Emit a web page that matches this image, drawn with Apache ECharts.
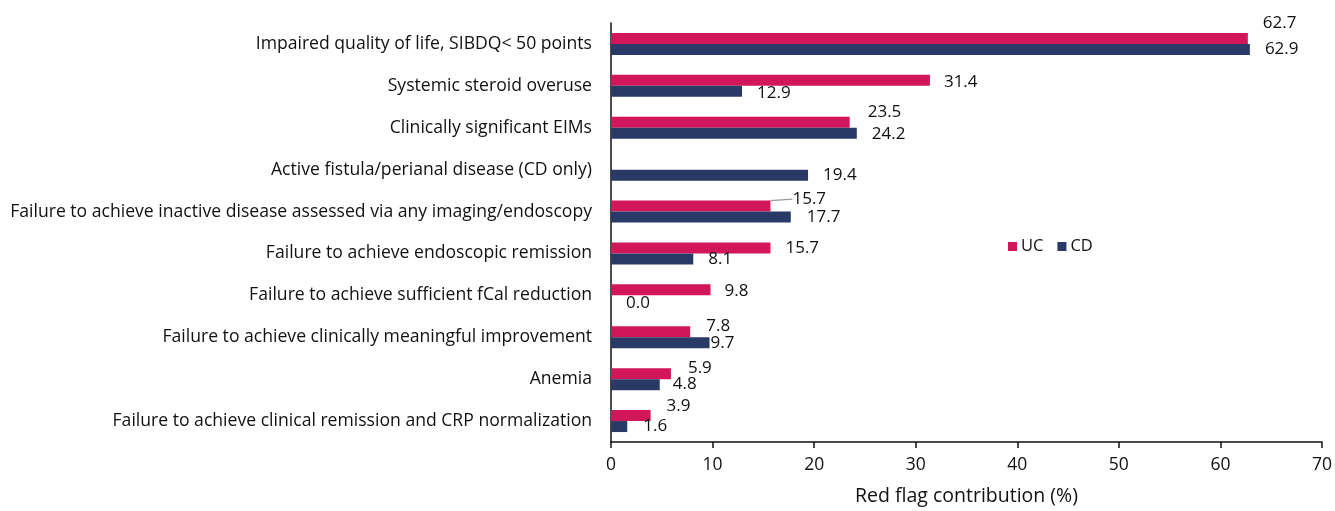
<!DOCTYPE html>
<html>
<head>
<meta charset="utf-8">
<script src="https://cdn.jsdelivr.net/npm/echarts@6/dist/echarts.min.js"></script>
<style>
html,body{margin:0;padding:0;background:#fff;}
#chart{width:1335px;height:511px;}
</style>
</head>
<body>
<div id="chart"></div>
<script>
// ---- data ----
const categories = [
  'Impaired quality of life, SIBDQ< 50 points',
  'Systemic steroid overuse',
  'Clinically significant EIMs',
  'Active fistula/perianal disease (CD only)',
  'Failure to achieve inactive disease assessed via any imaging/endoscopy',
  'Failure to achieve endoscopic remission',
  'Failure to achieve sufficient fCal reduction',
  'Failure to achieve clinically meaningful improvement',
  'Anemia',
  'Failure to achieve clinical remission and CRP normalization'
];
const ucValues = [62.7, 31.4, 23.5, null, 15.7, 15.7, 9.8, 7.8, 5.9, 3.9];
const cdValues = [62.9, 12.9, 24.2, 19.4, 17.7, 8.1, 0.0, 9.7, 4.8, 1.6];
const seriesNames = ['UC', 'CD'];
const xTicks = [0, 10, 20, 30, 40, 50, 60, 70];
const xAxisTitle = 'Red flag contribution (%)';

// ---- label placement tweaks (style, not data) ----
const ucLabelShift = [[1,-15],[0,2],[4,-10],[0,0],[8,-7],[1,0],[0,1],[2,-6],[3,-5],[2,-9]];
const cdLabelShift = [[1,0],[1,2],[1,1],[1,0],[2,0],[1,0],[1,2.5],[-13,0],[-1,0],[2,0]];

const colors = ['#D1175A', '#2A3A66'];
const FONT = '"Open Sans", Lato, sans-serif';

function makeSeries(name, values, color, shifts, leaderIdx) {
  return {
    name: name,
    type: 'bar',
    barWidth: 11,
    barGap: '0%',
    itemStyle: { color: color },
    data: values.map((v, i) => {
      const d = { value: v === null ? '-' : v };
      if (i === leaderIdx) d.labelLine = { show: true };
      return d;
    }),
    label: {
      show: true,
      position: 'right',
      distance: 14,
      color: '#111',
      fontFamily: FONT,
      fontSize: 17,
      formatter: p => (typeof p.value === 'number' ? p.value.toFixed(1) : '')
    },
    labelLine: {
      show: false,
      smooth: 0.5,
      lineStyle: { color: '#999', width: 1.2 }
    },
    labelLayout: function (params) {
      const s = shifts[params.dataIndex] || [0, 0];
      return { dx: s[0], dy: s[1] };
    }
  };
}

const chart = echarts.init(document.getElementById('chart'), null, { renderer: 'canvas' });
chart.setOption({
  animation: false,
  backgroundColor: '#fff',
  color: colors,
  grid: { left: 611, right: 13, top: 23, bottom: 69, containLabel: false },
  legend: {
    data: seriesNames,
    left: 1003,
    top: 233,
    icon: 'rect',
    itemWidth: 9,
    itemHeight: 9,
    itemGap: 14,
    textStyle: { fontFamily: FONT, fontSize: 16.5, color: '#111', padding: [0, 0, 0, -1] }
  },
  xAxis: {
    type: 'value',
    min: xTicks[0],
    max: xTicks[xTicks.length - 1],
    interval: 10,
    name: xAxisTitle,
    nameLocation: 'middle',
    nameGap: 44,
    nameTextStyle: { fontFamily: FONT, fontSize: 19.5, color: '#111' },
    axisLine: { show: true, lineStyle: { color: '#111', width: 1.5 } },
    axisTick: { show: true, length: 6, lineStyle: { color: '#111', width: 1.5 } },
    axisLabel: { fontFamily: FONT, fontSize: 17.5, color: '#111', margin: 14 },
    splitLine: { show: false }
  },
  yAxis: {
    type: 'category',
    inverse: true,
    data: categories,
    axisLine: { show: true, lineStyle: { color: '#111', width: 1.5 } },
    axisTick: { show: false },
    axisLabel: { fontFamily: FONT, fontSize: 17.6, color: '#111', margin: 19 }
  },
  series: [
    makeSeries(seriesNames[0], ucValues, colors[0], ucLabelShift, 4),
    makeSeries(seriesNames[1], cdValues, colors[1], cdLabelShift, -1)
  ]
});
</script>
</body>
</html>
